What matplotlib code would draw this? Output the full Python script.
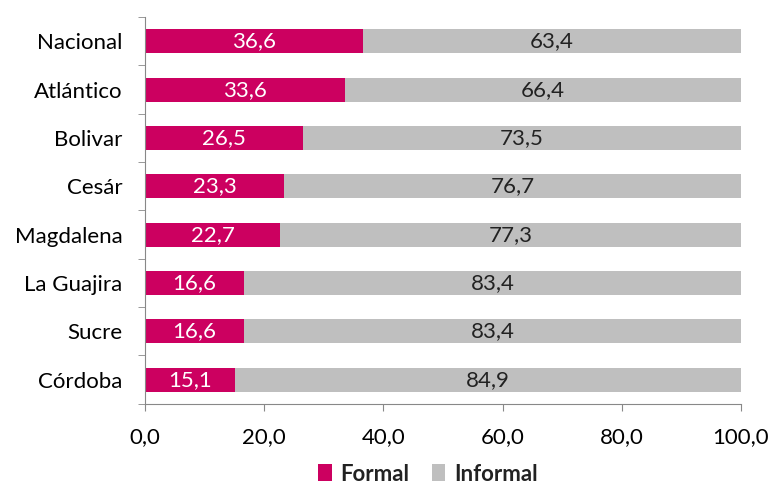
import numpy as np
import matplotlib.pyplot as plt

plt.rcParams['font.family'] = ['Lato', 'DejaVu Sans']

regiones = ["Nacional", "Atlántico", "Bolivar", "Cesár", "Magdalena",
            "La Guajira", "Sucre", "Córdoba"]
formal = [36.6, 33.6, 26.5, 23.3, 22.7, 16.6, 16.6, 15.1]
informal = [63.4, 66.4, 73.5, 76.7, 77.3, 83.4, 83.4, 84.9]

c_formal = "#CC0060"
c_informal = "#BFBFBF"
fs = 16


def fmt(v):
    return f"{v:.1f}".replace(".", ",")


fig = plt.figure(figsize=(7.71, 4.9), dpi=100)
ax = fig.add_axes([0.188, 0.176, 0.773, 0.789])

y = np.arange(len(regiones))
ax.barh(y, formal, height=0.5, color=c_formal, label="Formal")
ax.barh(y, informal, left=formal, height=0.5, color=c_informal, label="Informal")

for i in range(len(regiones)):
    ax.text(formal[i] / 2, y[i], fmt(formal[i]), ha="center", va="center",
            color="white", fontsize=fs)
    ax.text(formal[i] + informal[i] / 2, y[i], fmt(informal[i]), ha="center",
            va="center", color="#222222", fontsize=fs)

ax.set_ylim(len(regiones) - 0.5, -0.5)
ax.set_xlim(0, 100)
ax.set_yticks(y)
ax.set_yticklabels(regiones, fontsize=fs)
ax.set_yticks(np.arange(-0.5, len(regiones)), minor=True)
ax.tick_params(axis="y", which="major", length=0, pad=16)
ax.tick_params(axis="y", which="minor", length=5, color="#888888")

ax.set_xticks([0, 20, 40, 60, 80, 100])
ax.set_xticklabels([fmt(v) for v in [0, 20, 40, 60, 80, 100]], fontsize=fs)
ax.tick_params(axis="x", length=5, color="#888888", pad=12)

for s in ["top", "right"]:
    ax.spines[s].set_visible(False)
for s in ["left", "bottom"]:
    ax.spines[s].set_color("#888888")

leg = fig.legend(loc="lower center", bbox_to_anchor=(0.555, -0.03), ncol=2,
                 frameon=False, handlelength=0.6, handleheight=0.8,
                 handletextpad=0.4, columnspacing=1.0,
                 prop={"weight": "bold", "size": fs})
for t in leg.get_texts():
    t.set_color("#222222")

fig.savefig("out.png", dpi=100)
